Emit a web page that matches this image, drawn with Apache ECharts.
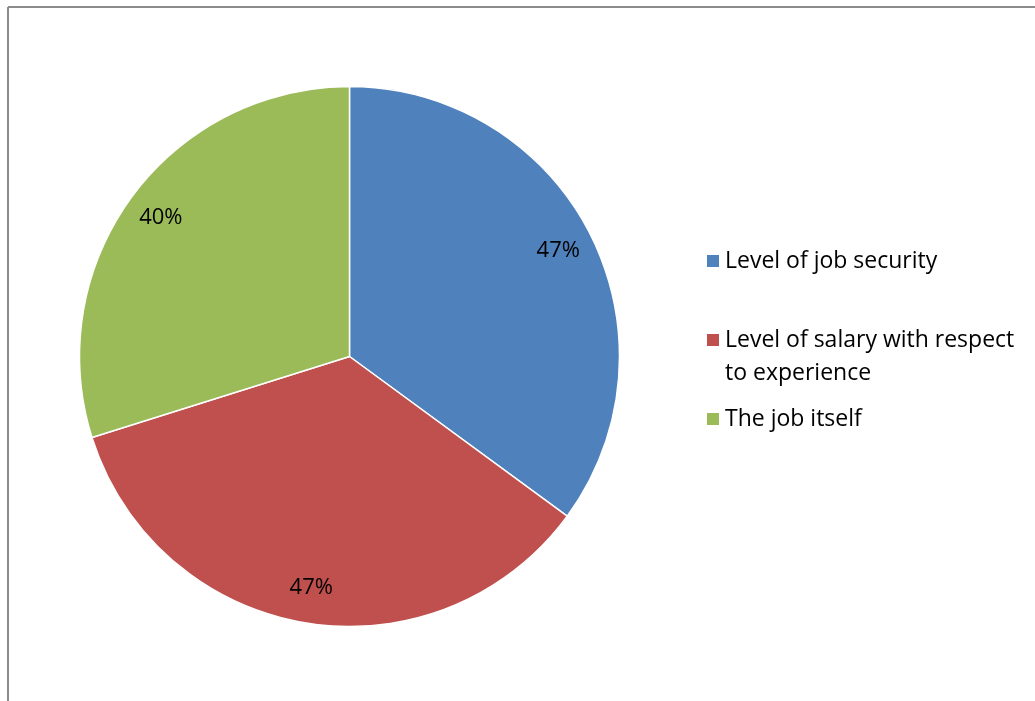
<!DOCTYPE html>
<html>
<head>
<meta charset="utf-8">
<script src="https://cdn.jsdelivr.net/npm/echarts@6/dist/echarts.min.js"></script>
<style>html,body{margin:0;padding:0;background:#fff;}#c{width:1035px;height:701px;}</style>
</head>
<body>
<div id="c"></div>
<script>
const categories = ['Level of job security', 'Level of salary with respect\nto experience', 'The job itself'];
const values = [47, 47, 40];
const labels = ['47%', '47%', '40%'];
const colors = ['#4F81BD', '#C0504D', '#9BBB59'];

const FONT = 'Open Sans';
const chart = echarts.init(document.getElementById('c'));
const pieData = categories.map((n, i) => ({ name: n, value: values[i], itemStyle: { color: colors[i] } }));
const labelData = categories.map((n, i) => ({ name: n, value: values[i], label: { formatter: labels[i] } }));

chart.setOption({
  animation: false,
  backgroundColor: '#fff',
  legend: {
    orient: 'vertical',
    left: 705,
    top: 244.5,
    padding: 0,
    itemGap: 13,
    itemWidth: 14,
    itemHeight: 14,
    itemTextGap: 8,
    icon: 'rect',
    textStyle: { fontFamily: FONT, fontSize: 23, color: '#000', lineHeight: 33 },
    formatter: function (name) { return name.indexOf('\n') >= 0 ? '\n' + name : name; },
    data: categories
  },
  graphic: [
    { type: 'line', shape: { x1: 8, y1: 7, x2: 1035, y2: 7 }, style: { stroke: '#8c8c8c', lineWidth: 2 } },
    { type: 'line', shape: { x1: 8, y1: 7, x2: 8, y2: 701 }, style: { stroke: '#8c8c8c', lineWidth: 2 } }
  ],
  series: [
    {
      type: 'pie',
      center: [349.5, 356.5],
      radius: [0, 270],
      startAngle: 90,
      clockwise: true,
      label: { show: false },
      labelLine: { show: false },
      itemStyle: { borderColor: '#fff', borderWidth: 1.5 },
      emphasis: { disabled: true },
      data: pieData
    },
    {
      type: 'pie',
      center: [349.5, 356.5],
      radius: [192, 270],
      startAngle: 90,
      clockwise: true,
      silent: true,
      itemStyle: { color: 'rgba(0,0,0,0)' },
      label: { show: true, position: 'inside', fontFamily: FONT, fontSize: 22, color: '#000' },
      labelLine: { show: false },
      emphasis: { disabled: true },
      data: labelData
    }
  ]
});
</script>
</body>
</html>
